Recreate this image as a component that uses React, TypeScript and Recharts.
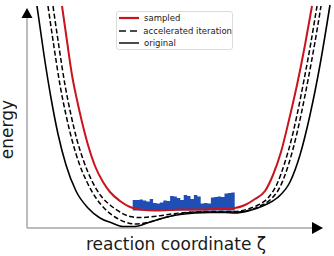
import {
  Area,
  ComposedChart,
  Legend,
  Line,
  ReferenceDot,
  ReferenceLine,
  XAxis,
  YAxis,
} from 'recharts'

// units: zeta and energy (arbitrary, origin at the axes corner)
const originalZeta = [10, 17, 24, 31, 39, 49, 61, 73, 85, 96, 108, 123, 138, 153, 168, 183, 198, 208, 221, 238, 250, 263, 273, 283, 293, 303]
const originalEnergy = [222, 173, 130, 94, 63, 37, 20, 10, 5, 1.5, 1.5, 6, 10.5, 13.5, 15, 15.5, 15.5, 15, 17, 23, 30, 46, 73, 113, 163, 223]

const accelOuterZeta = [21, 27, 33, 39, 45, 52, 60, 69, 78, 88, 98, 108, 118, 133, 148, 163, 178, 193, 208, 223, 233, 243, 253, 262, 270, 274, 281, 288, 294]
const accelOuterEnergy = [222, 181, 143, 113, 88, 65, 46, 30, 19, 11, 6, 4, 5, 9, 13, 15.5, 16, 16, 16, 18, 22, 28, 41, 65, 95, 113, 148, 186, 222]

const accelInnerZeta = [26, 32, 38, 44, 50, 57, 65, 74, 83, 93, 103, 113, 123, 138, 153, 168, 183, 198, 208, 221, 231, 241, 250, 258, 266, 270, 277, 284, 290]
const accelInnerEnergy = [222, 181, 143, 113, 88, 66, 47, 32, 23, 16, 11.5, 10.5, 11, 13, 15, 16, 16.5, 16.5, 16.5, 19, 23, 30, 44, 66, 95, 113, 148, 186, 222]

const sampledZeta = [35, 40, 45, 50, 55, 61, 68, 76, 83, 93, 103, 113, 128, 143, 158, 173, 188, 201, 208, 218, 228, 238, 246, 254, 262, 270, 278, 285]
const sampledEnergy = [222, 187, 153, 128, 106, 83, 62, 46, 36, 27, 21, 18.5, 17.5, 18, 18.5, 18.5, 19, 19.5, 20, 23, 29, 37, 53, 76, 108, 143, 183, 222]

// histogram of sampled zeta
const binEdges = [105.7, 109.1, 112.5, 115.9, 119.3, 122.7, 126.1, 129.5, 132.9, 136.3, 139.7, 143.1, 146.5, 149.9, 153.3, 156.7, 160.1, 163.5, 166.9, 170.3, 173.7, 177.1, 180.5, 183.9, 187.3, 190.7, 194.1, 197.5, 200.9, 204.3, 207.7]
const binTops = [28, 28, 28.5, 27.5, 26.5, 29, 25, 24.5, 25.5, 27.5, 27, 32, 31.5, 30, 28, 33, 32, 29, 33, 31.5, 24.5, 25, 24.5, 30.5, 31, 31.5, 31, 34.5, 35, 35.5]
const binBase = 17.5

const legendLabels = ['sampled', 'accelerated iteration', 'original']

const RED = '#c8141c'
const BLUE = '#1f4fb4'
const AXIS_GREY = '#a6a6a6'

const toPoints = (zs: number[], es: number[]) => zs.map((z, i) => ({ z, e: es[i] }))

const originalData = toPoints(originalZeta, originalEnergy)
const accelOuterData = toPoints(accelOuterZeta, accelOuterEnergy)
const accelInnerData = toPoints(accelInnerZeta, accelInnerEnergy)
const sampledData = toPoints(sampledZeta, sampledEnergy)
const histData = binEdges.map((z, i) => ({
  z,
  h: [binBase, binTops[Math.min(i, binTops.length - 1)]],
}))

function LegendBox() {
  const samples = [
    { stroke: RED, width: 2.2, dash: undefined },
    { stroke: '#111', width: 1.5, dash: '7 4' },
    { stroke: '#111', width: 1.5, dash: undefined },
  ]
  return (
    <div
      style={{
        width: 115,
        height: 37,
        border: '1px solid #dcdcdc',
        borderRadius: 3,
        background: 'rgba(255,255,255,0.85)',
        fontFamily: 'DejaVu Sans',
        fontSize: 8.5,
        color: '#222',
      }}
    >
      {legendLabels.map((label, i) => (
        <div key={label} style={{ display: 'flex', alignItems: 'center', height: 12.5 }}>
          <svg width={22} height={6} style={{ marginLeft: 1 }}>
            <line
              x1={1}
              x2={21}
              y1={3}
              y2={3}
              stroke={samples[i].stroke}
              strokeWidth={samples[i].width}
              strokeDasharray={samples[i].dash}
            />
          </svg>
          <span style={{ marginLeft: 4, whiteSpace: 'nowrap' }}>{label}</span>
        </div>
      ))}
    </div>
  )
}

export default function App() {
  return (
    <div
      style={{
        position: 'absolute',
        left: 0,
        top: 0,
        width: 334,
        height: 256,
        background: '#fff',
        fontFamily: 'DejaVu Sans',
      }}
    >
      <ComposedChart width={334} height={256} margin={{ top: 0, right: 0, bottom: 28, left: 27 }}>
        <XAxis type="number" dataKey="z" domain={[0, 307]} allowDataOverflow hide />
        <YAxis type="number" domain={[0, 228]} allowDataOverflow hide />
        <ReferenceLine segment={[{ x: 0, y: 0 }, { x: 0, y: 212 }]} stroke={AXIS_GREY} strokeWidth={1.5} />
        <ReferenceLine segment={[{ x: 0, y: 0 }, { x: 287, y: 0 }]} stroke={AXIS_GREY} strokeWidth={1.5} />
        <ReferenceDot
          x={0}
          y={220}
          shape={(p: any) => (
            <polygon points={`${p.cx},${p.cy} ${p.cx - 5.5},${p.cy + 10} ${p.cx + 5.5},${p.cy + 10}`} fill="#000" />
          )}
        />
        <ReferenceDot
          x={296}
          y={0}
          shape={(p: any) => (
            <polygon points={`${p.cx},${p.cy} ${p.cx - 11},${p.cy - 6} ${p.cx - 11},${p.cy + 6}`} fill="#000" />
          )}
        />
        <Line data={originalData} dataKey="e" type="monotone" stroke="#000" strokeWidth={1.6} dot={false} isAnimationActive={false} />
        <Line data={accelOuterData} dataKey="e" type="monotone" stroke="#000" strokeWidth={1.5} strokeDasharray="5 2.5" dot={false} isAnimationActive={false} />
        <Line data={accelInnerData} dataKey="e" type="monotone" stroke="#000" strokeWidth={1.5} strokeDasharray="5 2.5" dot={false} isAnimationActive={false} />
        <Line data={sampledData} dataKey="e" type="monotone" stroke={RED} strokeWidth={2} dot={false} isAnimationActive={false} />
        <Area data={histData} dataKey="h" type="stepAfter" stroke="none" fill={BLUE} fillOpacity={1} isAnimationActive={false} />
        <Legend
          layout="vertical"
          align="center"
          verticalAlign="middle"
          wrapperStyle={{ left: 116, top: 11, width: 117 }}
          content={() => <LegendBox />}
        />
      </ComposedChart>
      <div
        style={{
          position: 'absolute',
          left: 2.5,
          top: 99.5,
          fontSize: 17,
          lineHeight: '9px',
          color: '#1a1a1a',
          whiteSpace: 'nowrap',
          writingMode: 'vertical-rl',
          transform: 'rotate(180deg)',
        }}
      >
        energy
      </div>
      <div
        style={{
          position: 'absolute',
          left: 176,
          top: 235.6,
          fontSize: 17,
          lineHeight: '17px',
          color: '#1a1a1a',
          whiteSpace: 'nowrap',
          transform: 'translateX(-50%)',
        }}
      >
        reaction coordinate ζ
      </div>
    </div>
  )
}
